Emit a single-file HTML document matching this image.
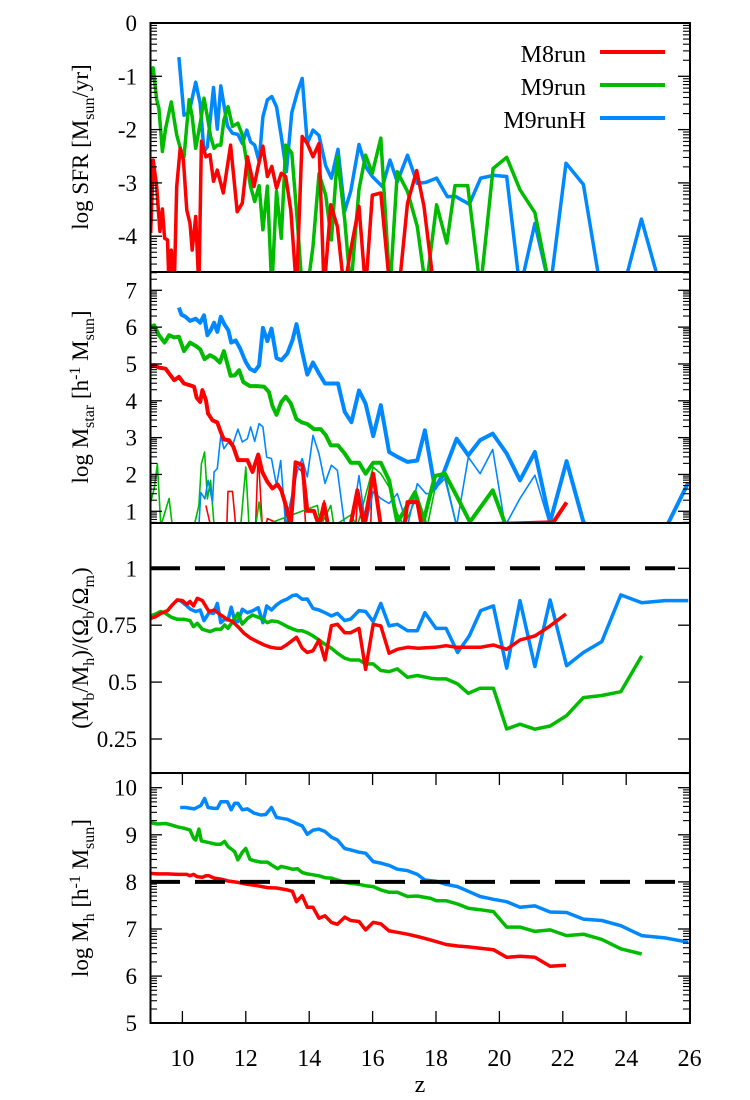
<!DOCTYPE html>
<html><head><meta charset="utf-8"><style>
html,body{margin:0;padding:0;background:#fff;}
svg{display:block;}
svg text{font-family:"Liberation Serif","Times New Roman",serif;}
</style></head><body>
<svg id="c" width="750" height="1100" viewBox="0 0 750 1100" font-family="Liberation Serif, serif">
<defs>
<clipPath id="cp1"><rect x="150" y="23" width="540" height="249"/></clipPath>
<clipPath id="cp2"><rect x="150" y="272" width="540" height="251"/></clipPath>
<clipPath id="cp3"><rect x="150" y="523" width="540" height="250"/></clipPath>
<clipPath id="cp4"><rect x="150" y="773" width="540" height="250"/></clipPath>
</defs>
<g id="marks"></g>
<g id="axes"></g>
<text x="88" y="147" transform="rotate(-90 88 147)" text-anchor="middle" font-size="23">log SFR [M<tspan font-size="16" dy="6">sun</tspan><tspan dy="-6">/yr]</tspan></text>
<text x="88" y="397" transform="rotate(-90 88 397)" text-anchor="middle" font-size="23">log M<tspan font-size="16" dy="6">star</tspan><tspan dy="-6"> [h</tspan><tspan font-size="16" dy="-8">-1</tspan><tspan dy="8"> M</tspan><tspan font-size="16" dy="6">sun</tspan><tspan dy="-6">]</tspan></text>
<text x="88" y="648" transform="rotate(-90 88 648)" text-anchor="middle" font-size="23">(M<tspan font-size="16" dy="6">b</tspan><tspan dy="-6">/M</tspan><tspan font-size="16" dy="6">h</tspan><tspan dy="-6">)/(Ω</tspan><tspan font-size="16" dy="6">b</tspan><tspan dy="-6">/Ω</tspan><tspan font-size="16" dy="6">m</tspan><tspan dy="-6">)</tspan></text>
<text x="88" y="898" transform="rotate(-90 88 898)" text-anchor="middle" font-size="23">log M<tspan font-size="16" dy="6">h</tspan><tspan dy="-6"> [h</tspan><tspan font-size="16" dy="-8">-1</tspan><tspan dy="8"> M</tspan><tspan font-size="16" dy="6">sun</tspan><tspan dy="-6">]</tspan></text>
<text x="420" y="1092" text-anchor="middle" font-size="24">z</text>
<g>
<text x="586" y="62" text-anchor="end" font-size="24">M8run</text>
<line x1="600" y1="52" x2="665" y2="52" stroke="#ff0000" stroke-width="4"/>
<text x="586" y="95" text-anchor="end" font-size="24">M9run</text>
<line x1="600" y1="85" x2="665" y2="85" stroke="#00bb00" stroke-width="4"/>
<text x="586" y="128" text-anchor="end" font-size="24">M9runH</text>
<line x1="600" y1="118" x2="665" y2="118" stroke="#0088ff" stroke-width="4"/>
</g>
</svg>
<script>
// x ticks
const xTicks=[10,12,14,16,18,20,22,24,26];
// Panel 1: SFR
const sfrM8z=[9.00,9.08,9.19,9.29,9.37,9.44,9.53,9.58,9.65,9.74,9.82,9.93,10.03,10.14,10.24,10.31,10.42,10.52,10.60,10.74,10.87,10.98,11.10,11.29,11.52,11.73,11.89,12.05,12.26,12.39,12.54,12.68,12.82,12.97,13.12,13.26,13.42,13.60,13.78,13.94,14.12,14.31,14.47,14.68,14.89,15.10,15.31,15.57,15.78,15.99,16.26,16.55,16.83,17.10,17.39,17.62,17.94];
const sfrM8v=[-3.94,-2.57,-3.07,-3.91,-3.49,-4.04,-4.07,-5,-4.26,-5,-3.07,-2.35,-2.57,-3.51,-3.76,-4.26,-3.63,-5,-2.22,-2.51,-2.47,-2.97,-2.76,-3.19,-2.29,-3.54,-3.38,-2.51,-3.07,-2.69,-2.31,-2.88,-2.69,-3.10,-2.82,-2.88,-3.51,-5,-2.13,-2.26,-2.51,-2.26,-5,-3.41,-3.82,-5,-4.26,-3.44,-5,-3.23,-3.19,-5,-5,-3.38,-2.77,-3.44,-5];
const sfrM9z=[9.00,9.08,9.19,9.26,9.37,9.47,9.65,9.82,9.95,10.05,10.21,10.31,10.42,10.58,10.68,10.79,10.89,11.00,11.10,11.21,11.31,11.44,11.58,11.75,11.89,12.05,12.15,12.28,12.42,12.54,12.68,12.82,12.97,13.12,13.26,13.45,13.63,13.78,13.94,14.12,14.31,14.52,14.70,14.89,15.12,15.31,15.57,15.78,15.99,16.26,16.55,16.78,17.10,17.41,17.68,18.02,18.34,18.60,19.00,19.40,19.80,20.23,20.65,21.12,21.60];
const sfrM9v=[-1.07,-0.84,-1.44,-1.60,-2.41,-1.98,-1.48,-2.10,-2.38,-2.51,-1.44,-1.76,-2.35,-1.82,-1.41,-1.76,-2.13,-2.35,-2.29,-2.29,-1.82,-1.57,-1.94,-1.88,-2.10,-2.69,-3.07,-3.35,-3.05,-3.88,-3.06,-5,-3.16,-4.04,-2.29,-2.44,-3.76,-5,-5,-4.19,-2.83,-3.23,-4.07,-2.51,-3.69,-5,-3.12,-2.48,-2.82,-2.16,-5,-2.79,-3.16,-3.82,-5,-3.41,-4.13,-3.05,-3.05,-5,-2.73,-2.52,-3.13,-3.56,-5];
const sfrM9Hz=[9.89,10.05,10.21,10.42,10.56,10.68,10.79,10.98,11.10,11.21,11.42,11.58,11.75,11.89,12.03,12.15,12.28,12.42,12.54,12.68,12.82,12.97,13.12,13.28,13.45,13.63,13.78,13.94,14.12,14.31,14.52,14.70,14.91,15.12,15.31,15.57,15.78,15.99,16.31,16.55,16.78,17.10,17.41,17.68,18.02,18.36,18.60,19.05,19.41,19.83,20.23,20.65,21.12,21.60,22.10,22.65,23.20,23.90,24.48,25.10,25.8];
const sfrM9Hv=[-0.64,-1.73,-1.68,-1.11,-1.51,-2.41,-2.32,-1.21,-1.99,-1.18,-1.93,-2.07,-2.09,-2.26,-2.01,-2.23,-2.29,-2.60,-1.76,-1.44,-1.38,-1.57,-2.13,-2.79,-1.68,-1.29,-1.04,-2.26,-2.01,-2.11,-2.68,-2.91,-2.37,-3.53,-3.16,-2.28,-2.69,-2.88,-3.07,-2.57,-2.98,-2.48,-3.01,-2.99,-2.91,-3.26,-3.25,-3.40,-2.91,-2.86,-2.88,-5,-3.76,-5,-2.63,-3.03,-5,-5,-3.68,-5,-5];
// Panel 2: stellar mass (thick = main, thin = secondary)
const msM8z=[9.00,9.11,9.26,9.47,9.58,9.74,9.89,10.05,10.24,10.37,10.45,10.56,10.63,10.74,10.81,10.95,11.10,11.21,11.31,11.47,11.61,11.75,12.05,12.21,12.39,12.52,12.68,12.84,13.00,13.12,13.26,13.42,13.57,13.78,13.94,14.15,14.31,14.47,14.60,15.30,15.52,15.73,16.02,16.26,17.00,17.10,17.41,17.55,21.70,22.12];
const msM8v=[4.92,4.97,4.90,4.87,4.74,4.56,4.65,4.47,4.42,4.38,4.08,3.97,4.29,4.02,3.65,3.47,3.41,3.15,2.95,2.93,2.75,2.39,2.39,2.07,2.54,2.07,1.80,1.62,1.73,1.57,1.17,0.65,2.33,2.26,1.01,1.01,0.6,1.2,0.6,0.6,1.57,0.6,2.02,0.6,0.6,1.25,1.25,0.6,0.7,1.24];
const msM9z=[9.00,9.11,9.26,9.44,9.58,9.74,9.89,10.05,10.24,10.42,10.56,10.70,10.87,11.02,11.18,11.31,11.52,11.65,11.79,11.92,12.13,12.36,12.58,12.73,12.84,12.97,13.12,13.26,13.42,13.60,13.78,13.94,14.15,14.36,14.52,14.68,14.91,15.12,15.31,15.57,15.78,16.02,16.26,16.52,16.78,17.34,17.60,17.97,18.28,18.65,19.07,19.79,20.16];
const msM9v=[6.00,6.05,5.78,5.58,5.78,5.72,5.74,5.35,5.58,5.49,5.40,5.13,5.24,5.17,5.04,5.35,4.68,4.69,4.83,4.51,4.40,4.40,4.38,4.24,3.86,3.62,3.97,4.11,3.93,3.50,3.41,3.37,3.23,3.23,3.07,2.79,2.79,2.57,2.32,2.32,2.02,2.32,2.32,1.84,0.69,1.52,0.71,1.96,2.02,1.42,0.71,1.57,0.71];
const msM9Hz=[9.89,9.97,10.10,10.24,10.42,10.56,10.68,10.79,10.89,11.00,11.10,11.21,11.33,11.45,11.54,11.68,11.82,12.00,12.13,12.28,12.42,12.54,12.68,12.81,12.97,13.12,13.31,13.47,13.60,13.78,13.94,14.12,14.31,14.50,14.68,14.91,15.12,15.33,15.57,15.78,16.02,16.26,16.52,16.78,17.10,17.41,17.65,17.97,18.23,18.65,19.02,19.39,19.79,20.23,20.65,21.12,21.60,22.12,22.65,23.2,24.5,25.28,25.96];
const msM9Hv=[6.53,6.34,6.28,6.17,6.23,6.12,6.32,5.78,5.91,6.12,5.87,6.28,6.07,5.91,5.58,5.64,5.42,5.05,4.87,4.80,4.96,5.98,5.62,5.96,5.16,5.10,5.28,5.64,6.08,5.33,4.71,5.04,4.74,4.47,4.47,4.47,3.70,3.42,4.28,3.92,3.04,3.88,2.61,2.48,2.34,2.38,3.20,1.62,2.02,2.97,2.52,2.93,3.11,2.57,1.84,2.61,0.71,2.36,0.71,0.3,0.3,0.6,1.78];
const msM8thinZ=[10.74,10.79,10.89,11.40,11.44,11.58,11.68,12.31,12.39,12.52,12.63,12.68,13.21,13.26,13.36,13.57,13.78,13.89,14.42,14.47,14.57,15.47,15.52,15.73,15.94,15.99,16.15,16.26];
const msM8thinV=[1.16,0.98,0.6,0.6,1.54,1.54,0.6,0.6,2.57,0.6,0.6,0.8,0.6,0.98,0.6,2.25,2.07,0.6,0.6,1.29,0.6,0.6,1.34,0.6,0.6,2.07,1.16,0.6];
const msM9thinZ=[9.00,9.11,9.21,9.32,9.58,9.68,10.37,10.52,10.60,10.70,10.79,10.89,11.00,11.84,12.00,12.10,12.31,12.42,12.52,14.26,14.36,14.68,14.78,15.31,15.52,16.02,16.26,16.52,16.78,16.99,17.41,17.73,17.97,18.28,18.65];
const msM9thinV=[1.25,1.62,2.29,0.6,1.35,0.6,0.6,1.16,2.29,2.61,1.34,1.84,0.6,0.6,2.20,0.6,0.6,1.25,0.6,1.16,0.6,1.16,0.6,0.9,0.6,2.20,2.02,1.66,0.94,0.6,1.43,0.6,1.62,1.98,0.6];
const msM9HthinZ=[10.52,10.58,10.71,10.81,10.95,11.00,11.10,11.21,11.31,11.44,11.58,11.75,11.89,12.05,12.15,12.28,12.42,12.54,12.66,12.81,12.97,13.10,13.26,13.42,13.63,13.78,13.94,14.12,14.31,14.50,14.70,14.89,15.12,15.33,15.57,15.78,16.02,16.26,16.52,16.78,17.10,17.41,17.68,17.83,18.28,18.65,19.02,19.39,19.79,20.18,20.65,21.12,21.60];
const msM9HthinV=[0.6,1.51,1.34,1.84,1.25,2.07,2.16,3.06,2.70,2.86,2.79,3.23,2.88,2.97,3.29,2.90,3.38,3.29,2.47,2.43,1.70,2.38,0.6,1.30,2.11,2.43,1.93,3.06,2.56,1.76,2.25,2.11,0.6,0.6,1.97,0.6,1.53,1.35,1.21,1.48,0.6,1.75,1.48,1.48,1.89,0.6,2.47,2.02,2.68,0.6,1.35,1.98,0.6];
// Panel 3: baryon fraction
const fbM8z=[9.0,9.16,9.32,9.53,9.68,9.84,10.0,10.14,10.24,10.35,10.47,10.63,10.74,10.84,11.0,11.21,11.37,11.58,11.75,11.94,12.15,12.36,12.58,12.79,12.97,13.12,13.31,13.60,13.78,13.94,14.12,14.31,14.50,14.70,14.89,15.12,15.31,15.57,15.78,16.02,16.26,16.52,16.78,17.10,17.44,17.97,18.32,18.65,19.39,19.81,20.23,20.65,21.12,21.60,22.10];
const fbM8v=[.780,.788,.802,.814,.839,.861,.858,.842,.854,.835,.868,.858,.832,.810,.817,.795,.780,.766,.744,.715,.693,.678,.663,.653,.649,.649,.666,.697,.649,.630,.638,.685,.597,.748,.754,.717,.717,.736,.556,.754,.747,.627,.644,.653,.649,.653,.660,.653,.653,.663,.644,.685,.703,.747,.799];
const fbM9z=[9.0,9.16,9.32,9.47,9.65,9.84,10.05,10.24,10.35,10.47,10.63,10.87,11.05,11.21,11.33,11.44,11.58,11.75,11.89,12.05,12.21,12.39,12.54,12.68,12.81,13.00,13.12,13.31,13.47,13.63,13.78,13.94,14.12,14.31,14.50,14.70,14.89,15.12,15.31,15.57,15.78,16.02,16.26,16.52,16.78,17.10,17.41,17.83,18.02,18.32,18.68,19.02,19.39,19.81,20.23,20.65,21.12,21.60,22.12,22.65,23.23,23.83,24.49];
const fbM9v=[.791,.799,.810,.802,.785,.776,.776,.770,.744,.758,.732,.722,.732,.732,.751,.736,.766,.802,.755,.780,.795,.785,.776,.761,.769,.766,.758,.744,.734,.726,.726,.717,.703,.685,.666,.649,.627,.605,.597,.597,.580,.580,.551,.546,.558,.521,.529,.517,.514,.514,.492,.451,.473,.473,.294,.315,.293,.307,.353,.432,.441,.458,.615];
const fbM9Hz=[9.93,10.10,10.26,10.42,10.56,10.68,10.84,10.98,11.10,11.21,11.33,11.44,11.54,11.65,11.75,11.89,12.05,12.21,12.39,12.54,12.66,12.81,12.97,13.12,13.31,13.47,13.60,13.78,13.94,14.12,14.31,14.50,14.70,14.89,15.12,15.31,15.57,15.78,16.02,16.26,16.52,16.78,17.10,17.41,17.65,18.00,18.32,18.68,19.05,19.41,19.81,20.23,20.65,21.12,21.60,22.12,22.65,23.23,23.83,24.49,25.22,25.96];
const fbM9Hv=[.858,.839,.820,.810,.817,.770,.805,.802,.846,.761,.776,.773,.829,.770,.766,.820,.805,.813,.827,.761,.835,.817,.839,.854,.865,.880,.883,.864,.865,.824,.817,.805,.791,.802,.770,.777,.814,.810,.766,.846,.747,.754,.726,.726,.805,.736,.736,.630,.703,.814,.835,.561,.858,.568,.861,.572,.630,.678,.883,.849,.858,.858];
// Panel 4: halo mass
const mhM8z=[9.0,9.21,9.53,9.84,10.14,10.24,10.35,10.47,10.63,10.74,10.84,11.0,11.21,11.44,11.75,12.05,12.36,12.68,12.97,13.31,13.47,13.60,13.78,13.94,14.12,14.31,14.50,14.70,14.89,15.12,15.31,15.57,15.78,16.02,16.26,16.52,16.78,17.10,17.41,17.65,18.02,18.32,18.68,19.02,19.39,19.81,20.23,20.65,21.12,21.60,22.10];
const mhM8v=[8.18,8.17,8.17,8.16,8.16,8.13,8.16,8.11,8.10,8.13,8.13,8.08,8.06,8.02,7.99,7.95,7.92,7.88,7.87,7.83,7.80,7.58,7.71,7.46,7.46,7.23,7.28,7.14,7.10,7.25,7.18,7.16,6.98,7.14,7.11,6.96,6.93,6.89,6.84,6.80,6.73,6.67,6.64,6.62,6.59,6.56,6.40,6.42,6.40,6.21,6.23];
const mhM9z=[9.0,9.21,9.47,9.65,9.84,10.05,10.24,10.35,10.42,10.52,10.60,10.87,11.05,11.21,11.33,11.44,11.58,11.65,11.75,11.89,12.0,12.13,12.26,12.47,12.68,12.81,13.0,13.12,13.31,13.47,13.63,13.78,13.94,14.12,14.31,14.50,14.70,14.89,15.12,15.31,15.57,15.78,16.02,16.26,16.52,16.78,17.10,17.41,17.83,18.02,18.32,18.68,19.02,19.39,19.81,20.23,20.65,21.12,21.60,22.12,22.65,23.23,23.83,24.49];
const mhM9v=[9.26,9.23,9.24,9.21,9.17,9.14,9.10,8.93,8.89,9.12,8.87,8.83,8.80,8.80,8.86,8.75,8.68,8.64,8.47,8.63,8.71,8.48,8.45,8.42,8.42,8.36,8.28,8.33,8.30,8.27,8.28,8.20,8.17,8.15,8.13,8.09,8.08,8.04,7.99,7.97,7.95,7.92,7.90,7.83,7.78,7.78,7.69,7.70,7.65,7.60,7.60,7.53,7.44,7.41,7.37,7.04,7.04,6.95,6.98,6.86,6.89,6.78,6.58,6.47];
const mhM9Hz=[9.93,10.10,10.37,10.58,10.70,10.81,11.0,11.10,11.21,11.42,11.54,11.65,11.75,11.89,12.05,12.26,12.47,12.63,12.81,12.97,13.12,13.31,13.47,13.63,13.78,13.94,14.12,14.31,14.50,14.70,14.89,15.12,15.31,15.57,15.78,16.02,16.26,16.52,16.78,17.10,17.41,17.65,18.02,18.32,18.68,19.02,19.39,19.81,20.23,20.65,21.12,21.60,22.12,22.65,23.23,23.83,24.49,25.22,25.96];
const mhM9Hv=[9.58,9.58,9.55,9.62,9.77,9.58,9.56,9.56,9.70,9.70,9.53,9.67,9.67,9.53,9.55,9.46,9.42,9.43,9.58,9.37,9.35,9.33,9.28,9.23,9.19,9.01,9.10,9.12,9.07,8.95,8.89,8.71,8.68,8.63,8.61,8.43,8.40,8.35,8.27,8.24,8.16,8.04,8.01,7.95,7.90,7.80,7.69,7.63,7.58,7.46,7.49,7.36,7.35,7.21,7.18,7.07,6.86,6.81,6.72];

const NS='http://www.w3.org/2000/svg';
const X0=150.7, XS=31.7;
function xs(z){return X0+(z-9)*XS;}
const panels=[
 {top:23,bot:272,ref:0,refY:23,sc:53.3,clip:'cp1'},
 {top:272,bot:523,ref:7,refY:290.3,sc:36.83,clip:'cp2'},
 {top:523,bot:773,ref:1,refY:568.3,sc:227.6,clip:'cp3'},
 {top:773,bot:1023,ref:10,refY:787.7,sc:47.1,clip:'cp4'}
];
function ys(p,v){return p.refY+(p.ref-v)*p.sc;}
function vOf(p,y){return p.ref-(y-p.refY)/p.sc;}
const marks=document.getElementById('marks');
const axes=document.getElementById('axes');
const RED='#ff0000',GRN='#00bb00',BLU='#0088ff';
function series(pi,zs,vs,col,w,name){
  const p=panels[pi];
  const pts=zs.map((z,i)=>xs(z).toFixed(1)+','+ys(p,vs[i]).toFixed(1)).join(' ');
  const el=document.createElementNS(NS,'polyline');
  el.setAttribute('points',pts);
  el.setAttribute('fill','none');
  el.setAttribute('stroke',col);
  el.setAttribute('stroke-width',w);
  el.setAttribute('stroke-linejoin','round');
  el.setAttribute('clip-path','url(#'+p.clip+')');
  
  
  marks.appendChild(el);
}
series(1,msM8thinZ,msM8thinV,RED,1.6,'mstar-m8run-thin-line');
series(1,msM9thinZ,msM9thinV,GRN,1.6,'mstar-m9run-thin-line');
series(1,msM9HthinZ,msM9HthinV,BLU,1.6,'mstar-m9runh-thin-line');
series(0,sfrM9Hz,sfrM9Hv,BLU,3.5,'sfr-m9runh-line');
series(0,sfrM9z,sfrM9v,GRN,3.5,'sfr-m9run-line');
series(0,sfrM8z,sfrM8v,RED,3.5,'sfr-m8run-line');
series(1,msM9Hz,msM9Hv,BLU,4,'mstar-m9runh-line');
series(1,msM9z,msM9v,GRN,4,'mstar-m9run-line');
series(1,msM8z,msM8v,RED,4,'mstar-m8run-line');
series(2,fbM9Hz,fbM9Hv,BLU,3.5,'fb-m9runh-line');
series(2,fbM9z,fbM9v,GRN,3.5,'fb-m9run-line');
series(2,fbM8z,fbM8v,RED,3.5,'fb-m8run-line');
series(3,mhM9Hz,mhM9Hv,BLU,3.5,'mh-m9runh-line');
series(3,mhM9z,mhM9v,GRN,3.5,'mh-m9run-line');
series(3,mhM8z,mhM8v,RED,3.5,'mh-m8run-line');
function line(x1,y1,x2,y2,w,name,dash){
  const l=document.createElementNS(NS,'line');
  l.setAttribute('x1',x1);l.setAttribute('y1',y1);l.setAttribute('x2',x2);l.setAttribute('y2',y2);
  l.setAttribute('stroke','#000');l.setAttribute('stroke-width',w);
  if(dash)l.setAttribute('stroke-dasharray',dash);
  
  
  axes.appendChild(l);
}
function txt(x,y,s,anchor,size,name){
  const t=document.createElementNS(NS,'text');
  t.setAttribute('x',x);t.setAttribute('y',y);t.setAttribute('text-anchor',anchor);t.setAttribute('font-size',size);
  t.setAttribute('font-family','Liberation Serif, serif');
  t.textContent=s;
  
  
  axes.appendChild(t);
}
// reference dashed lines
line(150,ys(panels[2],1),690,ys(panels[2],1),4,'unity-reference-line','30 15');
line(150,ys(panels[3],8),690,ys(panels[3],8),4,'halo-mass-reference-line','30 15');
// frames & y ticks
const majorSets=[[0,-1,-2,-3,-4],[1,2,3,4,5,6,7],[1,0.75,0.5,0.25],[5,6,7,8,9,10]];
const majorLabels=[['0','-1','-2','-3','-4'],['1','2','3','4','5','6','7'],['1','0.75','0.5','0.25'],['5','6','7','8','9','10']];
panels.forEach((p,pi)=>{
  const r=document.createElementNS(NS,'rect');
  r.setAttribute('x',150.5);r.setAttribute('y',p.top);r.setAttribute('width',539.5);r.setAttribute('height',p.bot-p.top);
  r.setAttribute('fill','none');r.setAttribute('stroke','#000');r.setAttribute('stroke-width',2);
  
  
  axes.appendChild(r);
  majorSets[pi].forEach((v,i)=>{
    const y=ys(p,v);
    line(150,y,162,y,1.3,'y-major-tick');
    line(678,y,690,y,1.3,'y-major-tick');
    txt(137,y+8,majorLabels[pi][i],'end',23,'y-tick-label');
  });
  if(pi!==2){
    const vt=vOf(p,p.top), vb=vOf(p,p.bot);
    for(let n=Math.floor(vb);n<=Math.ceil(vt);n++){
      for(let k=2;k<=9;k++){
        const v=n+Math.log10(k);
        if(v<vb||v>vt)continue;
        const y=ys(p,v);
        line(150,y,157,y,1.1,'y-minor-tick');
        line(683,y,690,y,1.1,'y-minor-tick');
      }
    }
  }
});
// x ticks on bottom panel
xTicks.forEach(z=>{
  const x=xs(z);
  line(x,1023,x,1011,1.3,'x-major-tick');
  line(x,773,x,785,1.3,'x-major-tick');
  txt(x,1066,String(z),'middle',24,'x-tick-label');
});
</script>
</body></html>
